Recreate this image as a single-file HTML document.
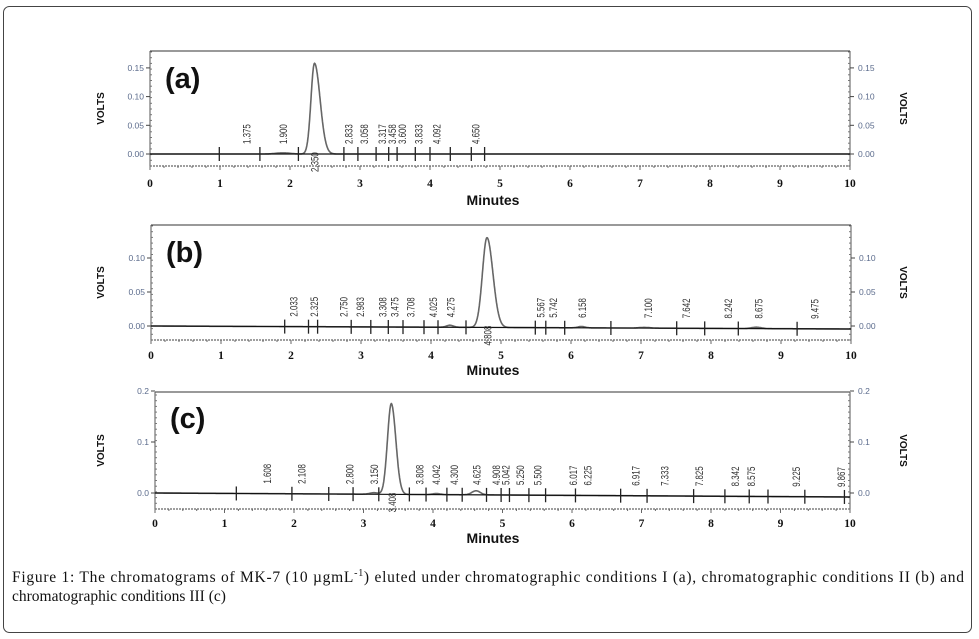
<!DOCTYPE html>
<html><head><meta charset="utf-8"><style>
body{margin:0;background:#fff;}
svg{display:block;}
</style></head><body>
<svg id="s" width="979" height="639" xmlns="http://www.w3.org/2000/svg" font-family="Liberation Sans, sans-serif">
<rect x="3.5" y="6.5" width="968" height="626" rx="6" fill="#fff" stroke="#444" stroke-width="1"/>
<text x="12" y="582" font-family="Liberation Serif, serif" font-size="15.5" fill="#111" textLength="952" lengthAdjust="spacing">Figure 1: The chromatograms of MK-7 (10 µgmL<tspan dy="-6" font-size="10">-1</tspan><tspan dy="6">) eluted under chromatographic conditions I (a), chromatographic conditions II (b) and</tspan></text>
<text x="12" y="601" font-family="Liberation Serif, serif" font-size="15.5" fill="#111">chromatographic conditions III (c)</text>
<g id="g"></g>
</svg>
<script>
var NS="http://www.w3.org/2000/svg",G=document.getElementById('g');
function el(t,a,txt){var e=document.createElementNS(NS,t);for(var k in a)e.setAttribute(k,a[k]);if(txt!==undefined)e.textContent=txt;G.appendChild(e);return e;}
var panels=[
{x0:150,s:70,top:51,bot:166,right:850,y0:154,vs:28.7/0.05,yt:[[0,"0.00"],[0.05,"0.05"],[0.1,"0.10"],[0.15,"0.15"]],lab:"(a)",ly:88,xl:187,ml:205,
 peaks:[[2.35,0.158,0.05,0.08],[1.9,0.002,0.1,0.1]],
 labels:["1.375","1.900","2.350","2.833","3.058","3.317","3.458","3.600","3.833","4.092","4.650"],below:"2.350",
 ticks:[0.99,1.57,2.12,2.77,2.97,3.23,3.41,3.53,3.79,4.0,4.29,4.59,4.78],drift:0},
{x0:151,s:70,top:225,bot:340,right:851,y0:326,vs:34/0.05,yt:[[0,"0.00"],[0.05,"0.05"],[0.1,"0.10"]],lab:"(b)",ly:262,xl:359,ml:375,
 peaks:[[4.80,0.132,0.065,0.085],[4.27,0.003,0.05,0.05],[6.15,0.002,0.05,0.05],[8.65,0.002,0.07,0.07],[7.05,0.001,0.08,0.08]],
 labels:["2.033","2.325","2.750","2.983","3.308","3.475","3.708","4.025","4.275","4.808","5.567","5.742","6.158","7.100","7.642","8.242","8.675","9.475"],below:"4.808",
 ticks:[1.91,2.25,2.38,2.86,3.14,3.39,3.6,3.9,4.1,4.5,5.49,5.64,5.91,6.57,7.51,7.91,8.39,9.23],drift:3},
{x0:155,s:69.5,top:392,bot:509,right:850,y0:493,vs:51/0.1,yt:[[0,"0.0"],[0.1,"0.1"],[0.2,"0.2"]],lab:"(c)",ly:428,xl:527,ml:543,
 peaks:[[3.40,0.178,0.055,0.065],[4.62,0.008,0.06,0.06],[3.15,0.003,0.06,0.06],[4.05,0.002,0.06,0.06]],
 labels:["1.608","2.108","2.800","3.150","3.408","3.808","4.042","4.300","4.625","4.908","5.042","5.250","5.500","6.017","6.225","6.917","7.333","7.825","8.342","8.575","9.225","9.867"],below:"3.408",
 ticks:[1.17,1.97,2.5,2.85,3.22,3.66,3.9,4.2,4.42,4.77,4.98,5.1,5.38,5.62,6.05,6.7,7.08,7.75,8.2,8.55,8.82,9.35,9.92],drift:4}
];
panels.forEach(function(p){
 var X=function(t){return p.x0+t*p.s;},Y=function(v){return p.y0-v*p.vs;};
 el('line',{x1:p.x0,y1:p.top,x2:p.right,y2:p.top,stroke:'#333','stroke-width':1});
 el('line',{x1:p.x0,y1:p.top,x2:p.x0,y2:p.bot,stroke:'#555','stroke-width':1});
 el('line',{x1:p.right,y1:p.top,x2:p.right,y2:p.bot,stroke:'#555','stroke-width':1});
 el('line',{x1:p.x0,y1:p.bot,x2:p.right,y2:p.bot,stroke:'#666','stroke-width':1.2,'stroke-dasharray':'2 1'});
 for(var y=p.bot;y>p.top;y-=5.7){el('line',{x1:p.x0,y1:y,x2:p.x0+2,y2:y,stroke:'#777'});el('line',{x1:p.right,y1:y,x2:p.right-2,y2:y,stroke:'#777'});}
 p.yt.forEach(function(t){var y=Y(t[0]);
  el('line',{x1:p.x0-4,y1:y,x2:p.x0,y2:y,stroke:'#444'});el('line',{x1:p.right,y1:y,x2:p.right+4,y2:y,stroke:'#444'});
  el('text',{x:p.x0-6,y:y+3,'font-size':8.5,fill:'#5b6b8c','text-anchor':'end'},t[1]);
  el('text',{x:p.right+8,y:y+3,'font-size':8.5,fill:'#5b6b8c'},t[1]);});
 var mid=(p.top+p.bot)/2;
 el('text',{x:0,y:0,'font-size':10,'font-weight':'bold',fill:'#111','text-anchor':'middle',transform:'translate(104,'+mid+') rotate(-90)'},'VOLTS');
 el('text',{x:0,y:0,'font-size':10,'font-weight':'bold',fill:'#111','text-anchor':'middle',transform:'translate(900,'+mid+') rotate(90)'},'VOLTS');
 for(var i=0;i<=50;i++){var x=X(i/5);el('line',{x1:x,y1:p.bot,x2:x,y2:p.bot+(i%5?2:4),stroke:'#666'});}
 for(var i=0;i<=10;i++)el('text',{x:X(i),y:p.xl,'font-size':11.5,'font-weight':'bold',fill:'#111','text-anchor':'middle','font-family':'Liberation Serif, serif'},i);
 el('text',{x:493,y:p.ml,'font-size':14,'font-weight':'bold',fill:'#111','text-anchor':'middle'},'Minutes');
 el('text',{x:p.x0+15,y:p.ly,'font-size':29,'font-weight':'bold',fill:'#111'},p.lab);
 var d='';
 for(var t=0;t<=10;t+=0.005){var v=0;p.peaks.forEach(function(k){var sg=t<k[0]?k[2]:k[3];v+=k[1]*Math.exp(-Math.pow((t-k[0])/sg,2)/2);});
  var y=Y(v)+p.drift*t/10;d+=(d?'L':'M')+X(t).toFixed(1)+' '+y.toFixed(1);}
 el('path',{d:d,fill:'none',stroke:'#666','stroke-width':1.6});
 el('line',{x1:p.x0,y1:p.y0,x2:p.right,y2:p.y0+p.drift,stroke:'#111','stroke-width':1.2});
 p.ticks.forEach(function(t){var x=X(t),y=p.y0+p.drift*t/10;el('line',{x1:x,y1:y-7,x2:x,y2:y+7,stroke:'#222','stroke-width':1.3});});
 p.labels.forEach(function(L){var t=parseFloat(L),x=X(t)+4,y=p.y0+p.drift*t/10;
  var b=(L===p.below);
  el('text',{x:0,y:0,'font-size':11,fill:'#333',transform:'translate('+x+','+(b?y+18:y-10)+') rotate(-90) scale(0.72,1)'},L);});
});
</script>
</body></html>
